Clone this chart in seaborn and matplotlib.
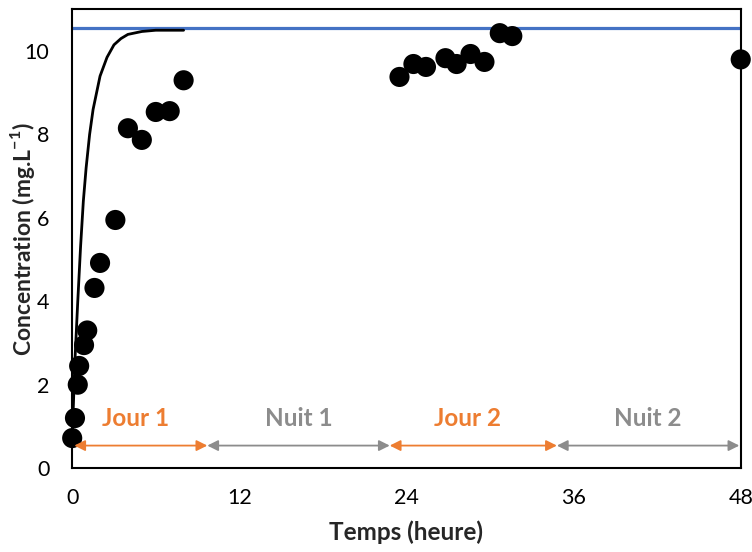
import numpy as np
import pandas as pd
import seaborn as sns
import matplotlib.pyplot as plt

# Mesures (jour 1, jour 2 et fin)
temps = [0, 0.2, 0.4, 0.5, 0.85, 1.08, 1.6, 2.0, 3.1, 4.0, 5.0, 6.0, 7.0, 8.0,
         23.5, 24.5, 25.4, 26.8, 27.6, 28.6, 29.6, 30.7, 31.6, 48]
conc = [0.72, 1.2, 2.0, 2.45, 2.95, 3.3, 4.32, 4.92, 5.95, 8.15, 7.87, 8.54, 8.56, 9.3,
        9.38, 9.69, 9.62, 9.83, 9.69, 9.93, 9.74, 10.43, 10.36, 9.8]

# Courbe modèle
t_mod = [0, 0.2, 0.4, 0.6, 0.8, 1.0, 1.25, 1.5, 2.0, 2.5, 3.0, 3.5, 4.0, 5.0, 6.0, 8.0]
c_mod = [0.7, 2.6, 4.0, 5.3, 6.4, 7.2, 8.0, 8.6, 9.4, 9.85, 10.15, 10.3, 10.4, 10.47, 10.5, 10.5]

c_sat = 10.55

# Périodes jour / nuit
periodes = ['Jour 1', 'Nuit 1', 'Jour 2', 'Nuit 2']
debut = [0.15, 9.7, 22.8, 34.8]
fin = [9.7, 22.8, 34.8, 47.9]
couleurs = ['#ED7D31', '#8C8C8C', '#ED7D31', '#8C8C8C']

sns.set_theme(style='white')
plt.rcParams['font.family'] = ['Lato', 'DejaVu Sans']
plt.rcParams['mathtext.fontset'] = 'custom'
plt.rcParams['mathtext.rm'] = 'Lato'
plt.rcParams['mathtext.bf'] = 'Lato:bold'

fig = plt.figure(figsize=(7.52, 5.52), dpi=100)
ax = fig.add_axes([0.096, 0.152, 0.889, 0.831])

ax.axhline(c_sat, color='#4472C4', lw=2.3, zorder=1)
sns.lineplot(x=t_mod, y=c_mod, color='black', lw=2, ax=ax, zorder=2)
sns.scatterplot(x=temps, y=conc, color='black', s=210, edgecolor='none', ax=ax, zorder=3, clip_on=False)

for nom, d, f, c in zip(periodes, debut, fin, couleurs):
    ax.annotate('', xy=(f, 0.54), xytext=(d, 0.54),
                arrowprops=dict(arrowstyle='<|-|>', color=c, lw=1.3, mutation_scale=16,
                                shrinkA=0, shrinkB=0))
    ax.text((d + f) / 2 - (0.4 if nom.startswith('Jour') else 0), 1.2, nom, color=c,
            fontsize=17.5, fontweight='bold', ha='center', va='center')

ax.set_xlim(0, 48)
ax.set_ylim(0, 11)
ax.set_xticks([0, 12, 24, 36, 48])
ax.set_yticks([0, 2, 4, 6, 8, 10])
ax.tick_params(direction='inout', length=9, width=1.5, labelsize=15.5, colors='black')
ax.tick_params(axis='x', pad=10)
ax.tick_params(axis='y', pad=12)
for s in ax.spines.values():
    s.set_color('black')
    s.set_linewidth(1.5)

ax.set_xlabel('Temps (heure)', fontsize=17.5, fontweight='bold', labelpad=9)
ax.set_ylabel(r'Concentration (mg.L$^{\mathbf{-1}}$)', fontsize=16.5, fontweight='bold')
ax.yaxis.set_label_coords(-0.052, 0.5)

fig.savefig('out.png', dpi=100)
